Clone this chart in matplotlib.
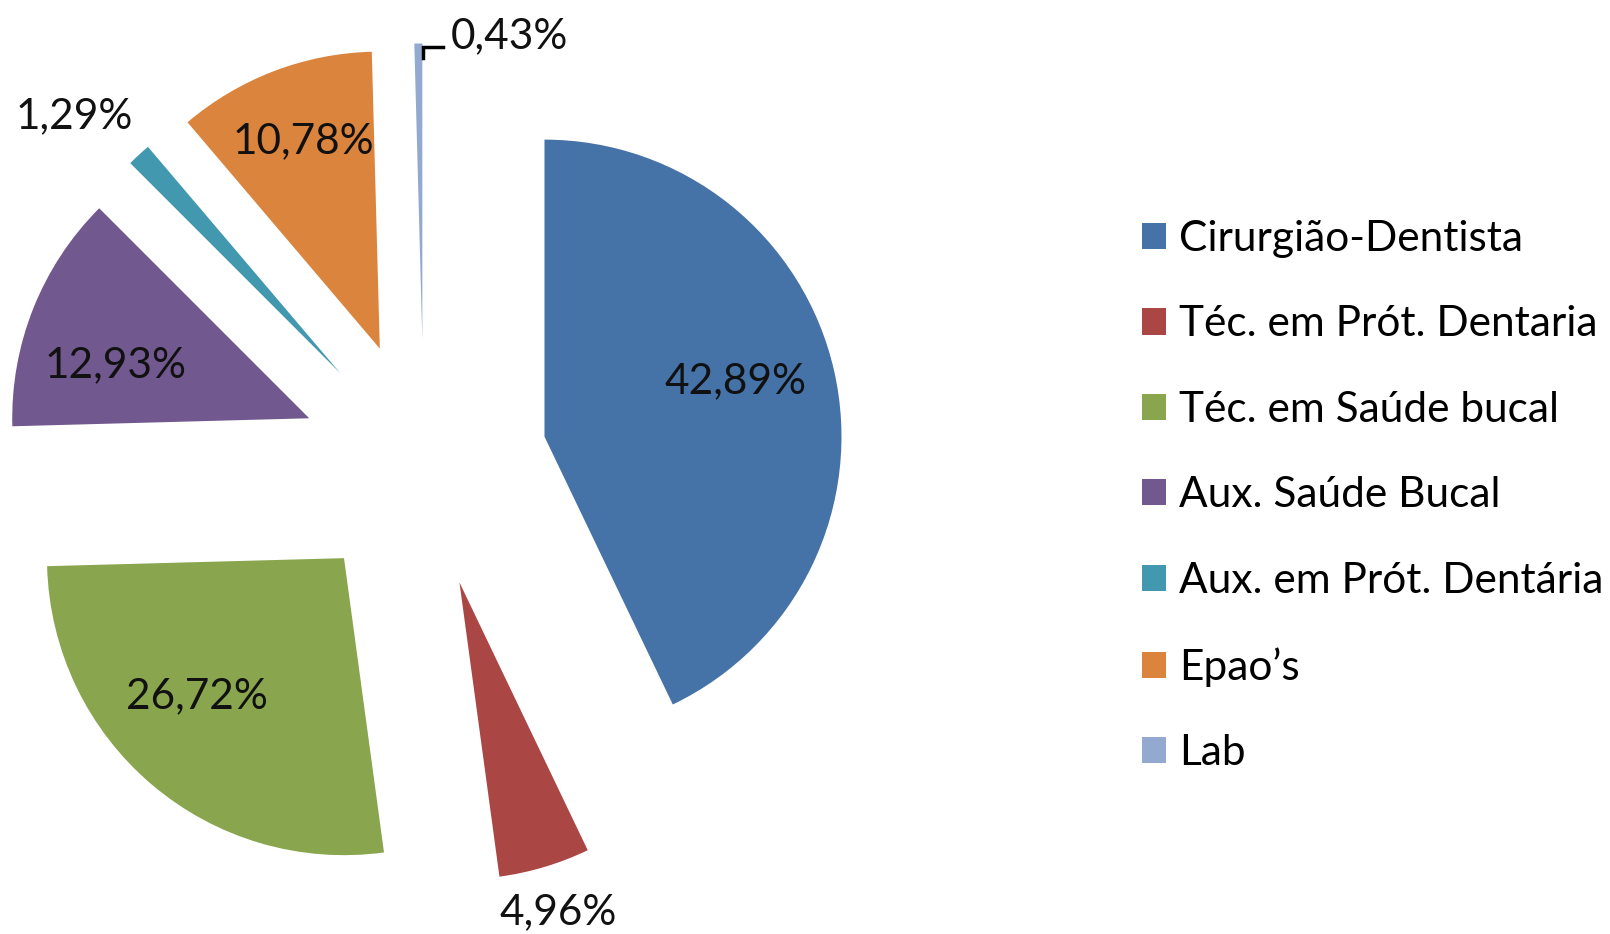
import matplotlib.pyplot as plt
import numpy as np

# data
categories = ["Cirurgião-Dentista", "Téc. em Prót. Dentaria", "Téc. em Saúde bucal",
              "Aux. Saúde Bucal", "Aux. em Prót. Dentária", "Epao\u2019s", "Lab"]
values = [42.89, 4.96, 26.72, 12.93, 1.29, 10.78, 0.43]
value_labels = ["42,89%", "4,96%", "26,72%", "12,93%", "1,29%", "10,78%", "0,43%"]

colors = ["#4572A7", "#AA4643", "#89A54E", "#71588F", "#4198AF", "#DB843D", "#93A9CF"]

plt.rcParams['font.family'] = ['Lato', 'DejaVu Sans']

W, H = 1610, 934
fig = plt.figure(figsize=(W / 100, H / 100), dpi=100)
ax = fig.add_axes([0, 0, 1, 1])

# pie centre and radius in pixels
cx, cy, rad = 424, 464, 297
explode_amt = 0.416

wedges, _ = ax.pie(values, colors=colors, startangle=90, counterclock=False,
                   explode=[explode_amt] * len(values), radius=1,
                   wedgeprops=dict(linewidth=0))

ax.set_xlim(-cx / rad, (W - cx) / rad)
ax.set_ylim(-(H - cy) / rad, cy / rad)
ax.set_aspect('equal')
ax.axis('off')

# distance of each label from the pie centre (in radii)
label_dist = [1.085, 1.575, 1.095, 1.09, 1.66, 1.16, 1.47]
label_ang_shift = [2, 0, -4, 4, 2.5, -0.5, -12]
for w, txt, d, sh in zip(wedges, value_labels, label_dist, label_ang_shift):
    mid = np.deg2rad((w.theta1 + w.theta2) / 2 + sh)
    ax.text(d * np.cos(mid), d * np.sin(mid), txt, ha='center', va='center',
            fontsize=30.5, color='#111111')

# small leader line for the Lab slice
def px(x, y):
    return (x - cx) / rad, (cy - y) / rad

p1, p2, p3 = px(423, 58), px(423, 47), px(443, 47)
ax.plot([p1[0], p2[0], p3[0]], [p1[1], p2[1], p3[1]], color='black', lw=2.5,
        solid_joinstyle='miter')

fig.legend(wedges, categories, loc='upper left', bbox_to_anchor=(1142 / W, 1 - 220 / H),
           frameon=False, fontsize=30.5, handlelength=0.57, handleheight=0.57,
           handletextpad=0.3, labelspacing=1.12, borderpad=0, borderaxespad=0)

fig.savefig("out.png", dpi=100)
